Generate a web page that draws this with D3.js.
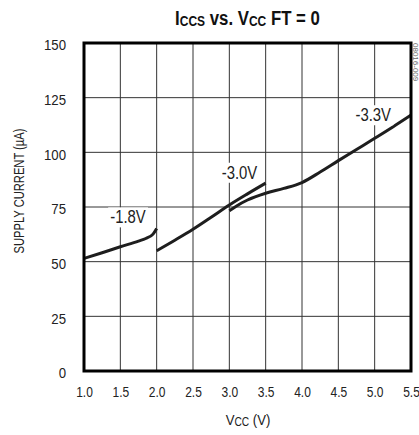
<!DOCTYPE html>
<html><head><meta charset="utf-8">
<script src="https://cdn.jsdelivr.net/npm/d3@7"></script>
<style>
body{margin:0;background:#fff;}
svg{display:block;}
text{font-family:"Liberation Sans Narrow","Liberation Sans",Arial,sans-serif;}
</style></head>
<body><svg id="c" width="419" height="435"></svg>
<script>
const xTicks = [1.0,1.5,2.0,2.5,3.0,3.5,4.0,4.5,5.0,5.5];
const yTicks = [0,25,50,75,100,125,150];
const seriesNames = ["-1.8V","-3.0V","-3.3V"];
const vcc18 = [1.0,1.25,1.5,1.75,1.85,1.95,2.0];
const icc18 = [51.5,54.1,56.8,59.4,60.6,62.6,65.2];
const vcc30 = [2.0,2.25,2.5,2.75,3.0,3.25,3.5];
const icc30 = [55.0,59.8,64.8,70.3,75.9,81.0,85.9];
const vcc33 = [3.0,3.1,3.25,3.5,3.75,4.0,4.25,4.5,4.75,5.0,5.25,5.5];
const icc33 = [73.3,75.5,78.2,81.3,83.5,86.2,91.0,96.2,101.3,106.4,111.6,117.0];
const labelPos = [[1.605,70.4],[3.14,90.8],[4.98,117.1]];

const svg = d3.select("#c");
const L=84,R=411,T=43,B=371;
const x = d3.scaleLinear().domain([1,5.5]).range([L,R]);
const y = d3.scaleLinear().domain([0,150]).range([B,T]);

function squeeze(sel, k){
  sel.each(function(){
    const len = this.getComputedTextLength();
    d3.select(this).attr("textLength", len*k).attr("lengthAdjust","spacingAndGlyphs");
  });
}

// grid
const g = svg.append("g");
g.selectAll("line.vx").data(xTicks).enter().append("line")
 .attr("x1",d=>x(d)).attr("x2",d=>x(d)).attr("y1",T).attr("y2",B)
 .attr("stroke","#333").attr("stroke-width",1);
g.selectAll("line.hy").data(yTicks).enter().append("line")
 .attr("y1",d=>y(d)).attr("y2",d=>y(d)).attr("x1",L).attr("x2",R)
 .attr("stroke","#333").attr("stroke-width",1);

// axes (labels only)
const xAxis = d3.axisBottom(x).tickValues(xTicks).tickFormat(d3.format(".1f")).tickSize(0).tickPadding(15);
const ax = svg.append("g").attr("transform",`translate(0,${B})`).call(xAxis);
ax.select(".domain").remove();
ax.selectAll("text").attr("font-size",15).attr("fill","#222").style("font-family",'"Liberation Sans",sans-serif');
squeeze(ax.selectAll("text"),0.8);
const yAxis = d3.axisLeft(y).tickValues(yTicks).tickSize(0).tickPadding(18);
const ay = svg.append("g").attr("transform",`translate(${L},0)`).call(yAxis);
ay.select(".domain").remove();
ay.selectAll("text").attr("font-size",15).attr("fill","#222").attr("dy","0.45em").style("font-family",'"Liberation Sans",sans-serif');
squeeze(ay.selectAll("text"),0.88);

// curves
const line = d3.line().x(d=>x(d[0])).y(d=>y(d[1])).curve(d3.curveMonotoneX);
const series = [d3.zip(vcc18,icc18), d3.zip(vcc30,icc30), d3.zip(vcc33,icc33)];
svg.selectAll("path.s").data(series).enter().append("path")
 .attr("d",line).attr("fill","none").attr("stroke","#1e1e1e").attr("stroke-width",3);

// labels with white background
seriesNames.forEach((n,i)=>{
  const gg = svg.append("g");
  const t = gg.append("text").attr("x",x(labelPos[i][0])).attr("y",y(labelPos[i][1]))
   .attr("text-anchor","middle").attr("dy","0.36em").attr("font-size",17.5).attr("fill","#222").text(n);
  squeeze(t,0.85);
  const bb = t.node().getBBox();
  gg.insert("rect","text").attr("x",bb.x-2).attr("y",bb.y).attr("width",bb.width+4).attr("height",bb.height).attr("fill","#fff");
});

// frame
svg.append("rect").attr("x",L).attr("y",T).attr("width",R-L).attr("height",B-T)
 .attr("fill","none").attr("stroke","#000").attr("stroke-width",3);

// title (condensed via horizontal scale)
const title = svg.append("text").attr("transform","translate(247.5,25) scale(0.8,1)").attr("text-anchor","middle")
 .attr("font-weight","bold").attr("fill","#111").attr("font-size",21);
title.append("tspan").text("I");
title.append("tspan").attr("font-size",15).attr("dy",1).text("CCS");
title.append("tspan").attr("dy",-1).text(" vs. V");
title.append("tspan").attr("font-size",15).attr("dy",1).text("CC");
title.append("tspan").attr("dy",-1).text(" FT = 0");

// x title
const xt = svg.append("text").attr("transform","translate(248,425) scale(0.85,1)").attr("text-anchor","middle").attr("font-size",15.5).attr("fill","#222");
xt.append("tspan").text("V");
xt.append("tspan").attr("font-size",12).attr("dy",1).text("CC");
xt.append("tspan").attr("dy",-1).text(" (V)");

// y title
svg.append("text").attr("transform","translate(24,191) rotate(-90) scale(0.72,1)").attr("text-anchor","middle")
 .attr("font-size",15.5).attr("fill","#222").text("SUPPLY CURRENT (µA)");

// figure id
svg.append("text").attr("transform","translate(413,43) rotate(90)").attr("font-size",8).attr("fill","#666")
 .text("08016-009");
</script></body></html>
